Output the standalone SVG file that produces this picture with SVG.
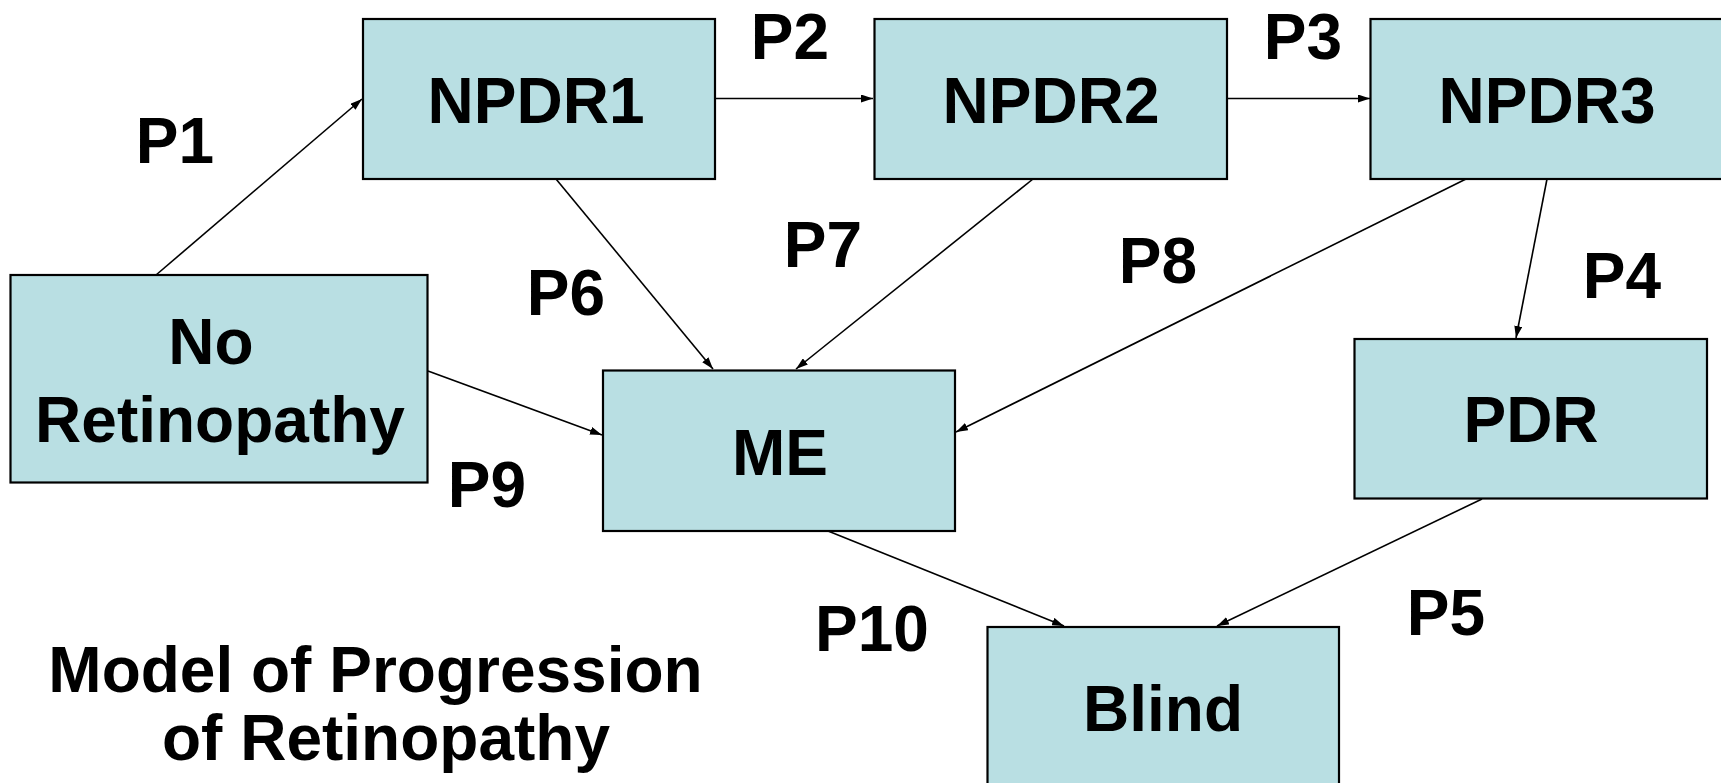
<svg xmlns="http://www.w3.org/2000/svg" width="1721" height="783" viewBox="0 0 1721 783">
<style>
.box{fill:#B9DFE3;stroke:#000;stroke-width:2.2}
.t{font-family:"Liberation Sans",Arial,sans-serif;font-weight:bold;font-size:64px;fill:#000;text-anchor:middle}
.c{stroke:#000;stroke-width:1.6;fill:none;marker-end:url(#ah)}
</style>
<defs>
<marker id="ah" viewBox="0 0 12 8" refX="12" refY="4" markerWidth="12" markerHeight="8" markerUnits="userSpaceOnUse" orient="auto">
<path d="M0,0 L12,4 L0,8 Z" fill="#000"/>
</marker>
</defs>
<rect width="1721" height="783" fill="#fff"/>
<g id="connectors">
<line class="c" x1="156" y1="275" x2="362" y2="99"/>
<line class="c" x1="715" y1="98.5" x2="873" y2="98.5"/>
<line class="c" x1="1227" y1="98.5" x2="1370" y2="98.5"/>
<line class="c" x1="556" y1="179" x2="713" y2="369"/>
<line class="c" x1="1033" y1="179" x2="796" y2="369"/>
<line class="c" x1="1466" y1="179" x2="956" y2="432"/>
<line class="c" x1="1547" y1="179" x2="1516" y2="338"/>
<line class="c" x1="428" y1="371" x2="602" y2="435"/>
<line class="c" x1="828" y1="531" x2="1064" y2="626"/>
<line class="c" x1="1482" y1="499" x2="1217" y2="626"/>
</g>
<g id="no-retinopathy">
<rect class="box" x="10.5" y="275" width="417" height="207.5"/>
<text class="t" x="211" y="364">No</text>
<text class="t" x="220" y="441.5">Retinopathy</text>
</g>
<g id="npdr1">
<rect class="box" x="363" y="19" width="352" height="160"/>
<text class="t" x="536" y="123">NPDR1</text>
</g>
<g id="npdr2">
<rect class="box" x="874.5" y="19" width="352.5" height="160"/>
<text class="t" x="1051" y="122.5">NPDR2</text>
</g>
<g id="npdr3">
<rect class="box" x="1370.5" y="19" width="360" height="160"/>
<text class="t" x="1547" y="122.5">NPDR3</text>
</g>
<g id="me">
<rect class="box" x="603" y="370.5" width="352" height="160.5"/>
<text class="t" x="780" y="475">ME</text>
</g>
<g id="pdr">
<rect class="box" x="1354.5" y="339" width="352.5" height="159.5"/>
<text class="t" x="1531" y="442">PDR</text>
</g>
<g id="blind">
<rect class="box" x="987.5" y="627" width="351.5" height="170"/>
<text class="t" x="1163" y="730.5">Blind</text>
</g>
<g id="labels">
<text class="t" x="175" y="163">P1</text>
<text class="t" x="790" y="59">P2</text>
<text class="t" x="1303" y="59">P3</text>
<text class="t" x="1622" y="298">P4</text>
<text class="t" x="1446" y="635">P5</text>
<text class="t" x="566" y="315">P6</text>
<text class="t" x="823" y="266.5">P7</text>
<text class="t" x="1158" y="282.5">P8</text>
<text class="t" x="487" y="506.5">P9</text>
<text class="t" x="872" y="650.5">P10</text>
<text class="t" x="375.5" y="691.5">Model of Progression</text>
<text class="t" x="386" y="760">of Retinopathy</text>
</g>
</svg>
